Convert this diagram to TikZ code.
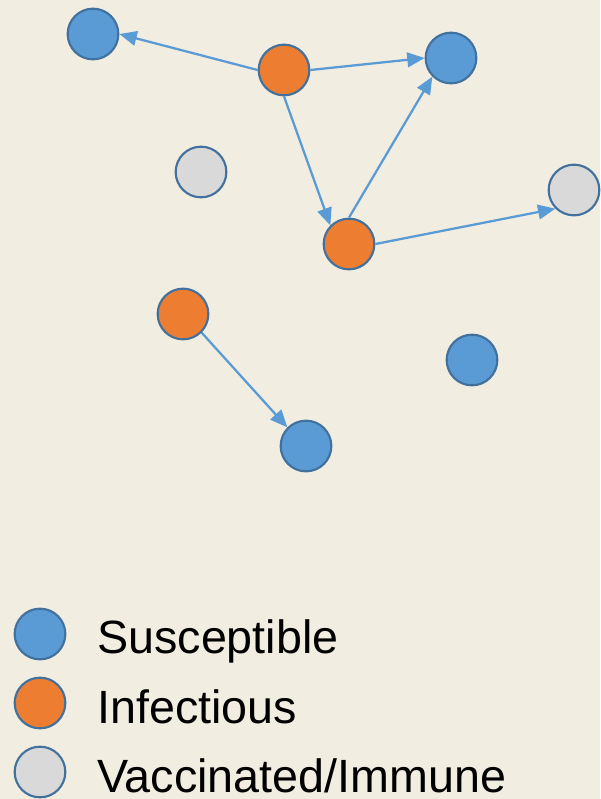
\documentclass[tikz,border=0pt]{standalone}
\usepackage{fontspec}
\setmainfont{Liberation Sans}
\usetikzlibrary{arrows.meta}
\definecolor{paper}{RGB}{241,237,225}
\definecolor{suscblue}{RGB}{91,155,213}
\definecolor{infcorange}{RGB}{237,125,49}
\definecolor{immgray}{RGB}{217,217,217}
\definecolor{rimblue}{RGB}{65,113,156}

\begin{document}
\begin{tikzpicture}[x=0.75pt, y=-0.75pt,
	agent/.style={circle, minimum size=38pt, inner sep=0pt, draw=rimblue, line width=1.6pt},
	susc/.style={agent, fill=suscblue},
	infc/.style={agent, fill=infcorange},
	immn/.style={agent, fill=immgray},
	contact/.style={draw=suscblue, line width=1.7pt, -{Triangle[length=13pt,width=11pt]}},
	legtext/.style={anchor=base west, inner sep=0pt, font=\fontsize{35}{40}\selectfont}]
	\fill[paper] (0,0) rectangle (600,799);
	\useasboundingbox (0,0) rectangle (600,799);
	% the population
	\node[susc] (s1) at (93,34) {};
	\node[infc] (i1) at (284,70) {};
	\node[susc] (s2) at (451,58) {};
	\node[immn] (v1) at (201,172) {};
	\node[immn] (v2) at (574,190) {};
	\node[infc] (i2) at (349,244) {};
	\node[infc] (i3) at (183,314) {};
	\node[susc] (s3) at (472,360) {};
	\node[susc] (s4) at (306,446) {};
	% who passes it on to whom
	\draw[contact] (i1.west) -- (s1.east);
	\draw[contact] (i1.east) -- (s2.west);
	\draw[contact] (i1.south) -- (i2.north west);
	\draw[contact] (i2.north) -- (s2.south west);
	\draw[contact] (i2.east) -- (v2.south west);
	\draw[contact] (i3.south east) -- (s4.north west);
	% legend
	\node[susc] (ks) at (40,634) {};
	\node[infc] (ki) at (40,703) {};
	\node[immn] (kv) at (40,772) {};
	\node[legtext] (ls) at (97,653) {Susceptible};
	\node[legtext] (li) at (97,723) {Infectious};
	\node[legtext] (lv) at (97,792) {Vaccinated/Immune};
\end{tikzpicture}
\end{document}
